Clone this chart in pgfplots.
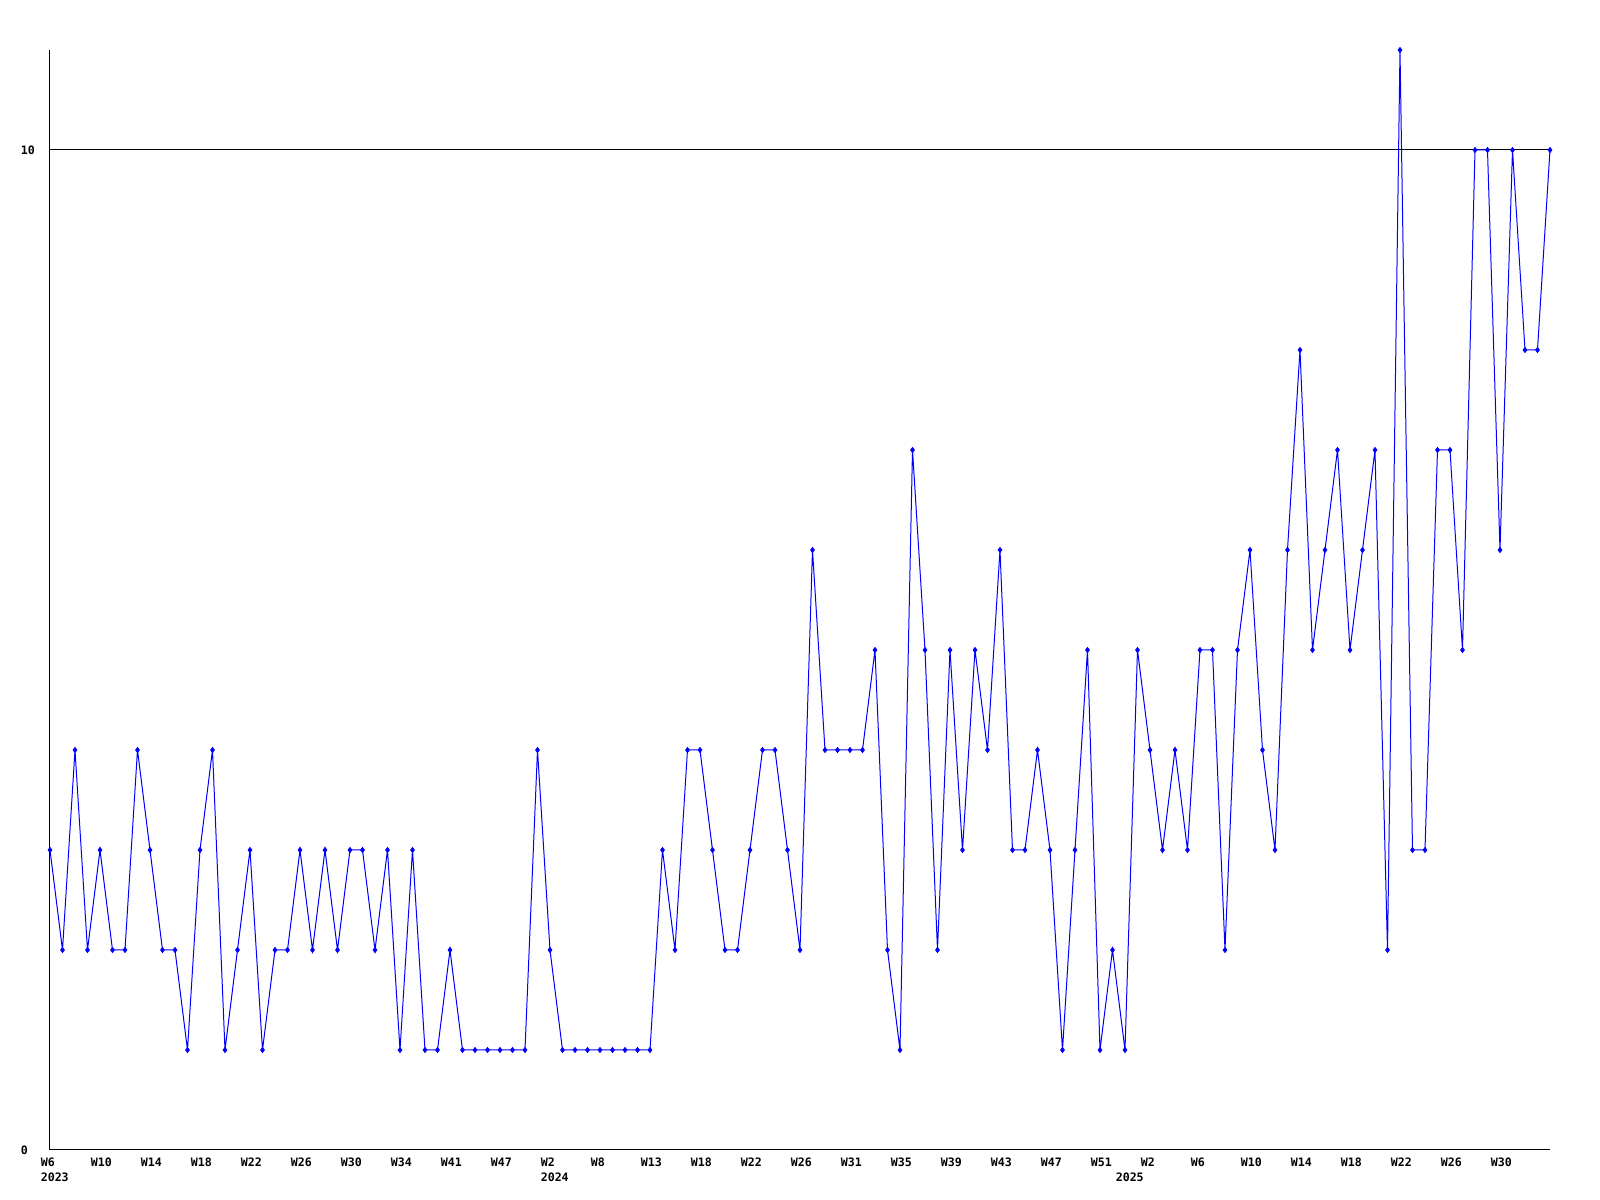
\documentclass[border=0pt]{standalone}
\usepackage{fontspec}
\setmonofont{DejaVu Sans Mono}
\usepackage{pgfplots}
\pgfplotsset{compat=1.18}
\begin{document}
\begin{tikzpicture}
\begin{axis}[
  scale only axis, width=375pt, height=275pt,
  xmin=0, xmax=120, ymin=0, ymax=11,
  axis x line=bottom, axis y line=left,
  axis line style={-, black, line width=0.25pt},
  every axis plot/.append style={line width=0.25pt},
  ytick={0,10}, ymajorgrids, grid style={black, line width=0.25pt},
  major tick length=0pt,
  xtick={0,4,...,116},
  xticklabels={W6,W10,W14,W18,W22,W26,W30,W34,W41,W47,W2,W8,W13,W18,W22,W26,W31,W35,W39,W43,W47,W51,W2,W6,W10,W14,W18,W22,W26,W30},
  tick label style={font=\ttfamily\bfseries\fontsize{2.9}{3.5}\selectfont, inner sep=0pt},
  /pgf/number format/assume math mode=true,
  x tick label style={anchor=north west, xshift=-2.5pt, yshift=-1.75pt},
  y tick label style={anchor=west, xshift=-7.5pt},
  clip=false,
]
\addplot[blue, mark=diamond*, mark size=0.6pt, mark options={solid}] coordinates {
(0,3)(1,2)(2,4)(3,2)(4,3)(5,2)(6,2)(7,4)(8,3)(9,2)
(10,2)(11,1)(12,3)(13,4)(14,1)(15,2)(16,3)(17,1)(18,2)(19,2)
(20,3)(21,2)(22,3)(23,2)(24,3)(25,3)(26,2)(27,3)(28,1)(29,3)
(30,1)(31,1)(32,2)(33,1)(34,1)(35,1)(36,1)(37,1)(38,1)(39,4)
(40,2)(41,1)(42,1)(43,1)(44,1)(45,1)(46,1)(47,1)(48,1)(49,3)
(50,2)(51,4)(52,4)(53,3)(54,2)(55,2)(56,3)(57,4)(58,4)(59,3)
(60,2)(61,6)(62,4)(63,4)(64,4)(65,4)(66,5)(67,2)(68,1)(69,7)
(70,5)(71,2)(72,5)(73,3)(74,5)(75,4)(76,6)(77,3)(78,3)(79,4)
(80,3)(81,1)(82,3)(83,5)(84,1)(85,2)(86,1)(87,5)(88,4)(89,3)
(90,4)(91,3)(92,5)(93,5)(94,2)(95,5)(96,6)(97,4)(98,3)(99,6)
(100,8)(101,5)(102,6)(103,7)(104,5)(105,6)(106,7)(107,2)(108,11)(109,3)
(110,3)(111,7)(112,7)(113,5)(114,10)(115,10)(116,6)(117,10)(118,8)(119,8)
(120,10)
};
\node[anchor=north west, inner sep=0pt, xshift=-2.5pt, yshift=-5.45pt, font=\ttfamily\bfseries\fontsize{2.9}{3.5}\selectfont] at (axis cs:0,0) {2023};
\node[anchor=north west, inner sep=0pt, xshift=-2.5pt, yshift=-5.45pt, font=\ttfamily\bfseries\fontsize{2.9}{3.5}\selectfont] at (axis cs:40,0) {2024};
\node[anchor=north west, inner sep=0pt, xshift=-2.5pt, yshift=-5.45pt, font=\ttfamily\bfseries\fontsize{2.9}{3.5}\selectfont] at (axis cs:86,0) {2025};
\end{axis}
\pgfresetboundingbox
\path[use as bounding box] ([xshift=-12.5pt,yshift=-12.5pt]current axis.south west) rectangle ([xshift=12.5pt,yshift=12.5pt]current axis.north east);
\end{tikzpicture}
\end{document}
